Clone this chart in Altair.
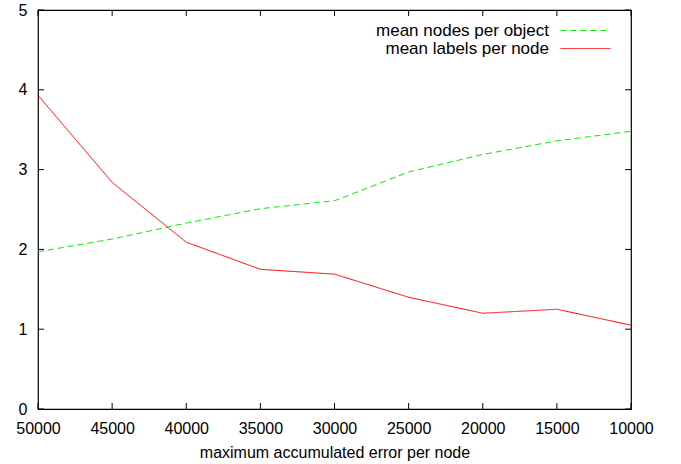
import altair as alt
import pandas as pd

x_vals = [50000, 45000, 40000, 35000, 30000, 25000, 20000, 15000, 10000]
nodes_per_object = [1.97, 2.13, 2.33, 2.51, 2.61, 2.97, 3.19, 3.36, 3.48]
labels_per_node = [3.93, 2.84, 2.09, 1.75, 1.69, 1.40, 1.20, 1.25, 1.05]
series_names = ["mean nodes per object", "mean labels per node"]
series_colors = ["#00ee00", "#ff0000"]
series_dash = [[6, 4], [1, 0]]
x_ticks = [50000, 45000, 40000, 35000, 30000, 25000, 20000, 15000, 10000]
y_ticks = [0, 1, 2, 3, 4, 5]

W, H = 593, 399
FONT = "Liberation Sans"
TICK = 6

rows = []
for x, v in zip(x_vals, nodes_per_object):
    rows.append({"x": x, "y": v, "series": series_names[0]})
for x, v in zip(x_vals, labels_per_node):
    rows.append({"x": x, "y": v, "series": series_names[1]})
df = pd.DataFrame(rows)

xscale = alt.Scale(domain=[10000, 50000], reverse=True, nice=False, zero=False)
yscale = alt.Scale(domain=[0, 5], nice=False)


def make_legend():
    return alt.Legend(title=None, orient="none", legendX=539, legendY=12,
                      symbolType="M-5,0H5", symbolSize=100,
                      symbolStrokeWidth=1, labelAlign="right",
                      labelOffset={"expr": "-45"}, labelFontSize=17, labelFont=FONT,
                      labelColor="black", rowPadding=0, padding=0,
                      labelLimit=400)


lines = alt.Chart(df).mark_line(strokeWidth=1).encode(
    x=alt.X("x:Q", scale=xscale,
            axis=alt.Axis(values=x_ticks, format="d", title="maximum accumulated error per node",
                          domain=False, ticks=False, grid=False, labelPadding=11,
                          labelFontSize=16, labelFont=FONT, labelColor="black",
                          titleFont=FONT, titleFontSize=16, titleFontWeight="normal",
                          titleColor="black", titlePadding=8, labelFlush=False)),
    y=alt.Y("y:Q", scale=yscale,
            axis=alt.Axis(values=y_ticks, format="d", title=None, domain=False, ticks=False,
                          grid=False, labelPadding=11, labelFontSize=16, labelFont=FONT,
                          labelColor="black", labelFlush=False)),
    color=alt.Color("series:N", sort=series_names,
                    scale=alt.Scale(domain=series_names, range=series_colors),
                    legend=make_legend()),
    strokeDash=alt.StrokeDash("series:N", sort=series_names,
                              scale=alt.Scale(domain=series_names, range=series_dash),
                              legend=make_legend()),
)

xt_bottom = pd.DataFrame({"xb": x_ticks})
xt_top = pd.DataFrame({"xt": x_ticks})
yt_left = pd.DataFrame({"yl": y_ticks})
yt_right = pd.DataFrame({"yr": y_ticks})

bottom_ticks = alt.Chart(xt_bottom).mark_rule(color="black", strokeWidth=1).encode(
    x=alt.X("xb:Q", scale=xscale), y=alt.value(H - TICK), y2=alt.value(H))
top_ticks = alt.Chart(xt_top).mark_rule(color="#000000", strokeWidth=1).encode(
    x=alt.X("xt:Q", scale=xscale), y=alt.value(0), y2=alt.value(TICK))
left_ticks = alt.Chart(yt_left).mark_rule(color="black", strokeWidth=1).encode(
    y=alt.Y("yl:Q", scale=yscale), x=alt.value(0), x2=alt.value(TICK))
right_ticks = alt.Chart(yt_right).mark_rule(color="black", strokeWidth=1).encode(
    y=alt.Y("yr:Q", scale=yscale), x=alt.value(W - TICK), x2=alt.value(W))

chart = alt.layer(lines, bottom_ticks, top_ticks, left_ticks, right_ticks).properties(
    width=W, height=H,
    autosize=alt.AutoSizeParams(type="none"),
    padding={"left": 38, "top": 10, "right": 50, "bottom": 55},
    background="white",
).configure_view(stroke="black", strokeWidth=1.2)

chart.save("out.html", embed_options={"renderer": "svg", "actions": False})
